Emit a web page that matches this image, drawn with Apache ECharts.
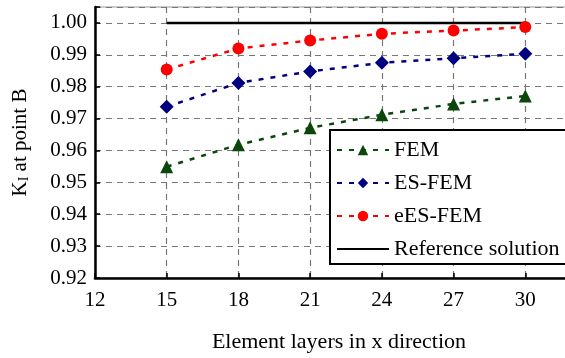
<!DOCTYPE html>
<html>
<head>
<meta charset="utf-8">
<script src="https://cdn.jsdelivr.net/npm/echarts@6/dist/echarts.min.js"></script>
<style>
html, body { margin: 0; padding: 0; background: #fff; }
#chartmain { width: 565px; height: 358px; }
</style>
</head>
<body>
<div id="chartmain"></div>
<script>
var layers = [15, 18, 21, 24, 27, 30];
var fem = [0.9549, 0.9618, 0.9671, 0.9712, 0.9746, 0.9771];
var esFem = [0.9737, 0.9812, 0.9848, 0.9875, 0.9889, 0.9903];
var eesFem = [0.9854, 0.9920, 0.9945, 0.9966, 0.9976, 0.9987];
var reference = [1.0, 1.0, 1.0, 1.0, 1.0, 1.0];

function pairs(xs, ys) {
	return xs.map(function (x, i) { return [x, ys[i]]; });
}

var font = 'Liberation Serif';
var dash = [5, 7];

var option = {
	animation: false,
	textStyle: { fontFamily: font },
	grid: {
		left: 95,
		top: 7,
		width: 502,
		height: 271,
		outerBoundsMode: 'none',
		containLabel: false,
		show: true,
		borderColor: '#999',
		borderWidth: 1
	},
	xAxis: {
		type: 'value',
		min: 12,
		max: 33,
		interval: 3,
		name: 'Element layers in x direction',
		nameLocation: 'middle',
		nameGap: 53,
		nameTextStyle: { fontSize: 22, color: '#000', fontFamily: font, padding: [0, 14, 0, 0] },
		axisLine: { lineStyle: { color: '#000', width: 2.5 } },
		axisTick: { inside: true, length: 5, lineStyle: { color: '#000', width: 1.5 } },
		axisLabel: { fontSize: 21, color: '#000', fontFamily: font, margin: 12 },
		splitLine: { lineStyle: { color: '#777', type: [6, 5], width: 1.2 } }
	},
	yAxis: {
		type: 'value',
		min: 0.92,
		max: 1.005,
		interval: 0.01,
		name: 'K{sub|I} at point B',
		nameLocation: 'middle',
		nameGap: 64,
		nameTextStyle: {
			fontSize: 21, color: '#000', fontFamily: font,
			rich: { sub: { fontSize: 14, color: '#000', fontFamily: font, verticalAlign: 'bottom', padding: [7, 0, 0, 0] } }
		},
		axisLine: { lineStyle: { color: '#000', width: 2.5 } },
		axisTick: { inside: true, length: 5, lineStyle: { color: '#000', width: 1.5 } },
		axisLabel: {
			fontSize: 21, color: '#000', fontFamily: font, margin: 8,
			formatter: function (v) { return v > 1.001 ? '' : v.toFixed(2); }
		},
		splitLine: { lineStyle: { color: '#777', type: [6, 5], width: 1.2 } }
	},
	legend: {
		left: 330,
		top: 130,
		orient: 'vertical',
		itemWidth: 52,
		itemHeight: 13,
		itemGap: 11,
		padding: [9, 40, 4, 6],
		backgroundColor: '#fff',
		borderColor: '#000',
		borderWidth: 2,
		borderRadius: 0,
		textStyle: { fontSize: 22, color: '#000', fontFamily: font },
		data: ['FEM', 'ES-FEM', 'eES-FEM', { name: 'Reference solution', itemStyle: { opacity: 0 } }]
	},
	series: [{
		name: 'FEM',
		type: 'line',
		data: pairs(layers, fem),
		symbol: 'triangle',
		symbolSize: 13,
		itemStyle: { color: '#0b460b' },
		lineStyle: { color: '#0b460b', width: 2.5, type: dash }
	}, {
		name: 'ES-FEM',
		type: 'line',
		data: pairs(layers, esFem),
		symbol: 'diamond',
		symbolSize: 14,
		itemStyle: { color: '#000080' },
		lineStyle: { color: '#000080', width: 2.5, type: dash }
	}, {
		name: 'eES-FEM',
		type: 'line',
		data: pairs(layers, eesFem),
		symbol: 'circle',
		symbolSize: 12,
		itemStyle: { color: '#ff0000' },
		lineStyle: { color: '#ff0000', width: 2.5, type: dash }
	}, {
		name: 'Reference solution',
		type: 'line',
		data: pairs(layers, reference),
		symbol: 'none',
		itemStyle: { color: '#000' },
		lineStyle: { color: '#000', width: 2.5 }
	}]
};

var myChart = echarts.init(document.getElementById('chartmain'));
myChart.setOption(option);
</script>
</body>
</html>
